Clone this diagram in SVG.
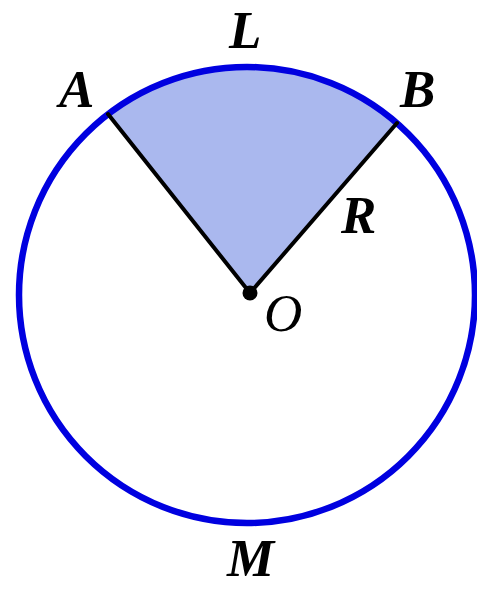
<svg xmlns="http://www.w3.org/2000/svg" width="477" height="590" viewBox="0 0 477 590">
<style>
.lbl{font-family:"Liberation Serif","Times New Roman",serif;font-style:italic;font-weight:bold;font-size:53px;fill:#000}
.rad{stroke:#000;stroke-width:4;fill:none;stroke-linecap:round}
</style>
<rect width="477" height="590" fill="#fff"/>
<g id="sector">
<path d="M250 293 L108 114 A228 228 0 0 1 397 123 Z" fill="#aab8ee"/>
</g>
<g id="circle">
<circle cx="247" cy="295" r="228" fill="none" stroke="#0000e0" stroke-width="6.5"/>
</g>
<g id="connectors">
<line class="rad" x1="250" y1="293" x2="108" y2="114"/>
<line class="rad" x1="250" y1="293" x2="397" y2="123"/>
</g>
<g id="O">
<circle cx="250" cy="293" r="7.5" fill="#000"/>
<text class="lbl" x="264" y="331" style="font-weight:normal">O</text>
</g>
<g id="labels">
<text class="lbl" x="229" y="48">L</text>
<text class="lbl" x="59" y="107">A</text>
<text class="lbl" x="400" y="107">B</text>
<text class="lbl" x="341" y="233">R</text>
<text class="lbl" x="227" y="576">M</text>
</g>
</svg>
